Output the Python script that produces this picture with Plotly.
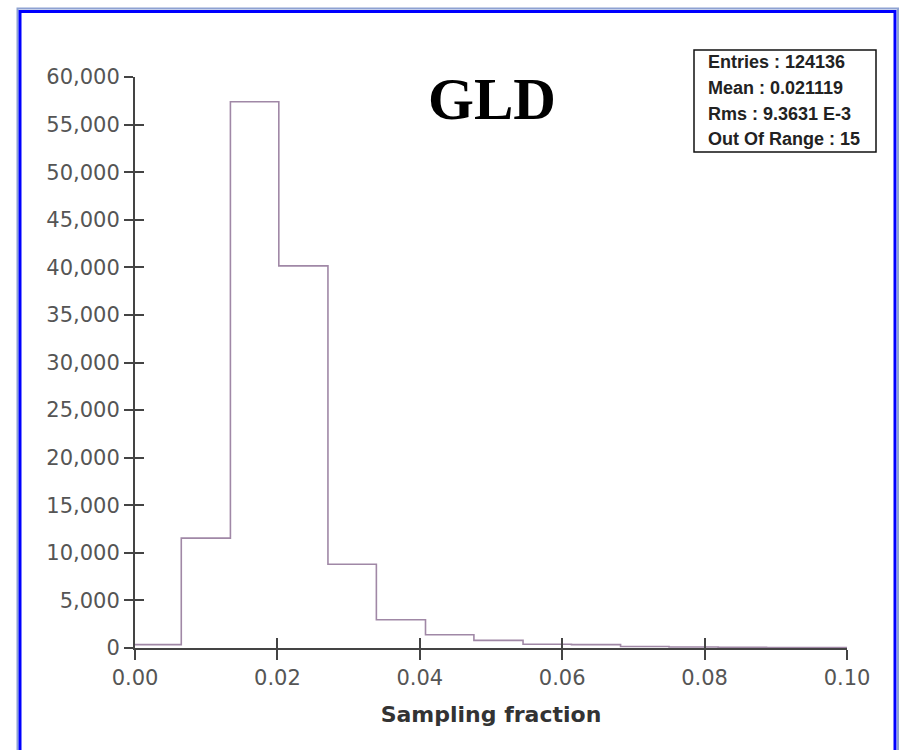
import plotly.graph_objects as go

# ---- data ----
bin_edges = [-0.0004, 0.0065, 0.0134, 0.0202, 0.0271, 0.0339, 0.0408, 0.0476,
             0.0545, 0.0613, 0.0682, 0.0750, 0.0819, 0.0887, 0.0956, 0.1024]
counts = [350, 11550, 57400, 40150, 8800, 2970, 1400, 800, 400, 350,
          150, 100, 70, 50, 40]
y_ticks = [0, 5000, 10000, 15000, 20000, 25000, 30000, 35000, 40000,
           45000, 50000, 55000, 60000]
x_ticks = [0.00, 0.02, 0.04, 0.06, 0.08, 0.10]
stats_lines = ["Entries : 124136", "Mean : 0.021119", "Rms : 9.3631 E-3",
               "Out Of Range : 15"]
title_text = "GLD"
x_title = "Sampling fraction"

W, H = 904, 750
L, R, T, B = 135, 57, 77, 102
pw, ph = W - L - R, H - T - B


def px(x):
    return (x - L) / pw


def py(y):
    return (H - B - y) / ph


# step outline
sx = [bin_edges[0]] + bin_edges
sy = [0] + counts + [counts[-1]]

line_col = "#a088a6"
axis_col = "#444444"
lab_col = "#555555"

fig = go.Figure()
fig.add_trace(go.Scatter(x=sx, y=sy, mode="lines", line_shape="hv",
                         line=dict(color=line_col, width=1.6),
                         showlegend=False, hoverinfo="skip"))
fig.add_trace(go.Scatter(x=sx, y=sy, mode="lines", line=dict(width=0),
                         xaxis="x2", yaxis="y2", showlegend=False,
                         hoverinfo="skip"))

tickfont = dict(family="DejaVu Sans", size=21, color=lab_col)

fig.update_layout(
    width=W, height=H,
    margin=dict(l=L, r=R, t=T, b=B),
    paper_bgcolor="white", plot_bgcolor="white",
    xaxis=dict(range=[0, 0.1], tickvals=x_ticks,
               ticktext=[f"{v:.2f}" for v in x_ticks],
               ticks="outside", ticklen=10, tickwidth=2, tickcolor=axis_col,
               showline=True, linecolor=axis_col, linewidth=2,
               showgrid=False, zeroline=False, tickfont=tickfont,
               title=dict(text=x_title, standoff=17,
                          font=dict(family="DejaVu Sans", size=22,
                                    color="#333333", weight="bold"))),
    yaxis=dict(range=[0, 60000], tickvals=y_ticks,
               ticktext=[f"{v:,}" for v in y_ticks],
               ticks="outside", ticklen=9, tickwidth=2, tickcolor=axis_col,
               showline=True, linecolor=axis_col, linewidth=2,
               showgrid=False, zeroline=False, tickfont=tickfont),
    xaxis2=dict(range=[0, 0.1], tickvals=x_ticks, overlaying="x",
                anchor="y2", side="bottom", ticks="inside", ticklen=10,
                tickwidth=2, tickcolor=axis_col, showticklabels=False,
                showline=False, showgrid=False, zeroline=False),
    yaxis2=dict(range=[0, 60000], tickvals=y_ticks, overlaying="y",
                anchor="x2", side="left", ticks="inside", ticklen=9,
                tickwidth=2, tickcolor=axis_col, showticklabels=False,
                showline=False, showgrid=False, zeroline=False),
    showlegend=False,
)

shapes = [
    # window frame
    dict(type="rect", xref="paper", yref="paper",
         x0=px(17.5), x1=px(898), y0=py(8.5), y1=py(800),
         line=dict(color="#8ea2d2", width=2)),
    dict(type="rect", xref="paper", yref="paper",
         x0=px(20), x1=px(895), y0=py(11.5), y1=py(800),
         line=dict(color="#0000ff", width=3)),
    # stats box
    dict(type="rect", xref="paper", yref="paper",
         x0=px(694), x1=px(876), y0=py(152), y1=py(50),
         line=dict(color="#111111", width=1.5), fillcolor="white"),
]
fig.update_layout(shapes=shapes)

ann = [dict(text=title_text, xref="paper", yref="paper",
            x=px(492), y=py(99), xanchor="center", yanchor="middle",
            showarrow=False,
            font=dict(family="Liberation Serif", size=59, color="black",
                      weight="bold"))]
line_y = [62, 88, 114, 139]
for txt, yy in zip(stats_lines, line_y):
    ann.append(dict(text=txt, xref="paper", yref="paper", x=px(706),
                    y=py(yy), xanchor="left", yanchor="middle",
                    showarrow=False,
                    font=dict(family="Liberation Sans", size=18,
                              color="#222222", weight="bold")))
fig.update_layout(annotations=ann)

fig.write_html("out.html", config={"displayModeBar": False},
               post_script="document.body.style.margin='0';")
